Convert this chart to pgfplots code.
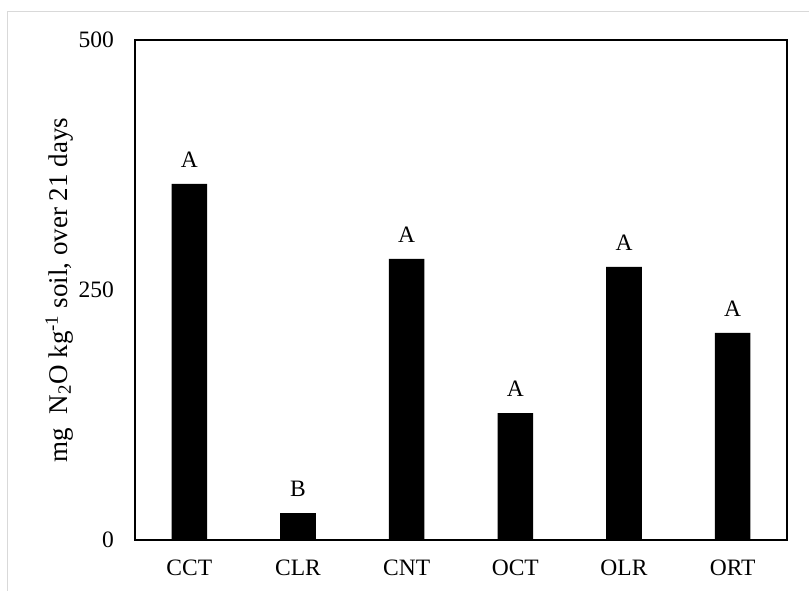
\documentclass[border=0pt]{standalone}
\usepackage{fontspec}
\setmainfont{Liberation Serif}
\usepackage{pgfplots}
\pgfplotsset{compat=1.18}
\begin{document}
\begin{tikzpicture}[x=1pt,y=1pt]
\useasboundingbox (0,0) rectangle (809,590);
\draw[line width=1pt, color={rgb,255:red,217;green,217;blue,217}] (7,-5) -- (7,578) -- (815,578);
\begin{axis}[
  at={(135pt,50pt)}, anchor=south west,
  scale only axis, width=652pt, height=500pt,
  xmin=-0.5, xmax=5.5, ymin=0, ymax=500,
  xtick=data, xticklabels={CCT,CLR,CNT,OCT,OLR,ORT},
  ytick={0,250,500},
  major tick length=0pt,
  axis line style={line width=1.3pt},
  font=\fontsize{23.5}{28}\selectfont,
  /pgf/number format/assume math mode=true,
  yticklabel style={anchor=east, inner sep=0pt, xshift=-21pt},
  xticklabel style={anchor=north, inner sep=0pt, yshift=-20pt},
  ylabel={mg~~N\textsubscript{2}O kg\textsuperscript{-1} soil, over 21 days},
  ylabel style={at={(axis description cs:-0.1043,0.5)}, anchor=base, inner sep=0pt, rotate=0, font=\fontsize{27}{32}\selectfont},
  nodes near coords, point meta=explicit symbolic,
  nodes near coords style={anchor=south, inner sep=0pt, yshift=16pt, font=\fontsize{23.5}{28}\selectfont},
]
\addplot[ybar, bar width=35.6pt, fill=black, draw=none] table[meta=lab] {
x y lab
0 356 A
1 27 B
2 281 A
3 127 A
4 273 A
5 207 A
};
\end{axis}
\end{tikzpicture}
\end{document}
